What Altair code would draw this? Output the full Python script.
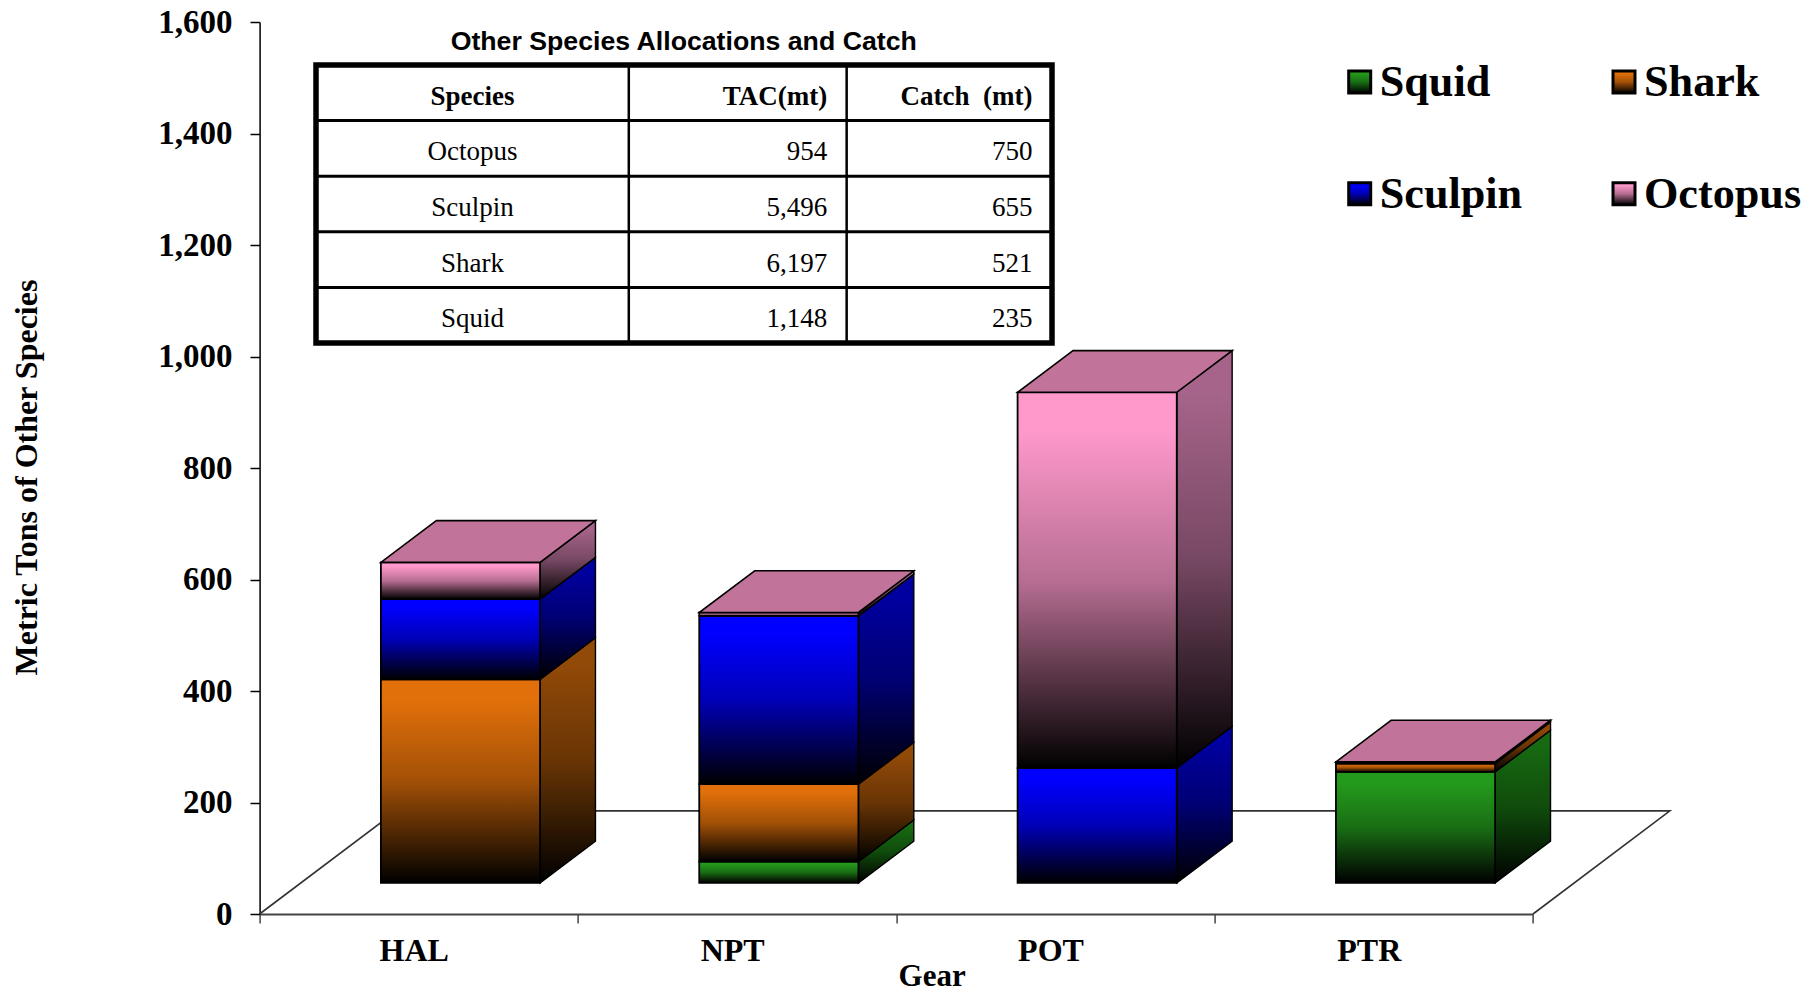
import altair as alt
import pandas as pd

# ---- chart data (metric tons) ----
gears = ["HAL", "NPT", "POT", "PTR"]
squid = [0, 38, 0, 199]
shark = [365, 139, 0, 15]
sculpin = [144, 302, 206, 0]
octopus = [66, 6, 674, 3]
y_ticks = [0, 200, 400, 600, 800, 1000, 1200, 1400, 1600]

# ---- table data ----
table_title = "Other Species Allocations and Catch"
table_header = ["Species", "TAC(mt)", "Catch\u00a0 (mt)"]
table_species = ["Octopus", "Sculpin", "Shark", "Squid"]
table_tac = ["954", "5,496", "6,197", "1,148"]
table_catch = ["750", "655", "521", "235"]

# ---- legend ----
legend_names = ["Squid", "Shark", "Sculpin", "Octopus"]

# ---- styles ----
SERIES = [
    ("Squid", squid, "#249a1c", "#176a12"),
    ("Shark", shark, "#e2700a", "#924a08"),
    ("Sculpin", sculpin, "#0000ff", "#0000a0"),
    ("Octopus", octopus, "#ff99cc", "#a6648a"),
]
TOP_COLOR = "#c27399"
SERIF = "Liberation Serif"
SANS = "Liberation Sans"

# ---- geometry of the pseudo-3D box ----
PLOT_W, PLOT_H = 1273.4, 892
BAR_LEFT, BAR_RIGHT = 0.381, 0.881   # inside a gear slot
DEPTH_X, DEPTH_Y = 0.174, 74.8       # bar depth in scale units
BASE = 55.8                          # bars stand in the middle of the floor
FLOOR_X, FLOOR_Y = 0.43, 185


def shade(color, k):
    r, g, b = (int(color[j:j + 2], 16) for j in (1, 3, 5))
    return "#{:02x}{:02x}{:02x}".format(int(r * k), int(g * k), int(b * k))


def grad(color):
    return alt.LinearGradient(
        gradient="linear", x1=0, x2=0, y1=0, y2=1,
        stops=[
            alt.GradientStop(offset=0, color=color),
            alt.GradientStop(offset=0.1, color=color),
            alt.GradientStop(offset=0.5, color=shade(color, 0.72)),
            alt.GradientStop(offset=1, color="#000000"),
        ],
    )


x_scale = alt.Scale(domain=[0, 4], range=[0, PLOT_W])
y_scale = alt.Scale(domain=[0, 1600], range=[PLOT_H, 0])


def X(f="x"):
    return alt.X(f"{f}:Q", scale=x_scale, axis=None)


def Y(f="y"):
    return alt.Y(f"{f}:Q", scale=y_scale, axis=None)


layers = []

# axes
axis_layer = (
    alt.Chart(pd.DataFrame({"gear": gears, "v": [0, 0, 0, 0]}))
    .mark_point(opacity=0)
    .encode(
        x=alt.X(
            "gear:N",
            scale=alt.Scale(type="band", domain=gears, paddingInner=0, paddingOuter=0),
            axis=alt.Axis(
                title="Gear", titleFont=SERIF, titleFontSize=31, titleFontWeight="bold",
                titleColor="black", titleX=672, titleY=71, titleBaseline="alphabetic",
                titleAlign="center",
                labelFont=SERIF, labelFontSize=32, labelFontWeight="bold", labelColor="black",
                labelAngle=0, labelOffset=-5, labelPadding=37, labelBaseline="alphabetic",
                tickBand="extent", tickSize=9, tickColor="#444444", tickWidth=1.5,
                domainColor="#444444", domainWidth=2, grid=False,
            ),
        ),
        y=alt.Y(
            "v:Q",
            scale=y_scale,
            axis=alt.Axis(
                values=y_ticks, format=",.0f", grid=False,
                title="Metric Tons of Other Species", titleFont=SERIF, titleFontSize=32,
                titleFontWeight="bold", titleColor="black", titleAngle=-90,
                titleX=-223, titleY=455, titleAlign="center", titleBaseline="alphabetic",
                labelFont=SERIF, labelFontSize=33, labelFontWeight="bold", labelColor="black",
                labelPadding=18, tickSize=9.6, tickColor="black", tickWidth=1.5,
                domainColor="black", domainWidth=1.5,
            ),
        ),
    )
)
layers.append(axis_layer)

# floor
floor_df = pd.DataFrame(
    {"x": [0, FLOOR_X, 4 + FLOOR_X, 4], "y": [0, FLOOR_Y, FLOOR_Y, 0], "o": [0, 1, 2, 3]}
)
layers.append(
    alt.Chart(floor_df)
    .mark_line(color="#333333", strokeWidth=1.6)
    .encode(x=X(), y=Y(), order="o:Q")
)

# bars: side faces, then front faces, then the lid
for i, gear in enumerate(gears):
    left, right = i + BAR_LEFT, i + BAR_RIGHT
    running = 0
    fronts = []
    for name, values, front_c, side_c in SERIES:
        v = values[i]
        if v <= 0:
            continue
        lo, hi = BASE + running, BASE + running + v
        running += v
        side_df = pd.DataFrame(
            {
                "x": [right, right + DEPTH_X],
                "y": [lo, lo + DEPTH_Y],
                "y2": [hi, hi + DEPTH_Y],
            }
        )
        layers.append(
            alt.Chart(side_df)
            .mark_area(color=grad(side_c), stroke="#000000", strokeWidth=1.4, orient="vertical")
            .encode(x=X(), y=Y(), y2="y2:Q")
        )
        fronts.append(
            alt.Chart(pd.DataFrame({"x": [left], "x2": [right], "y": [lo], "y2": [hi]}))
            .mark_rect(color=grad(front_c), stroke="#000000", strokeWidth=1.8)
            .encode(x=X(), x2="x2:Q", y=Y(), y2="y2:Q")
        )
    layers.extend(fronts)
    top = BASE + running
    lid_df = pd.DataFrame(
        {
            "y": [top, top + DEPTH_Y],
            "x": [left, left + DEPTH_X],
            "x2": [right, right + DEPTH_X],
        }
    )
    layers.append(
        alt.Chart(lid_df)
        .mark_area(color=TOP_COLOR, stroke="#000000", strokeWidth=1.6, orient="horizontal")
        .encode(y=Y(), x=X(), x2="x2:Q")
    )

# table (own scales: x runs over the table width, y over its rows)
tx = alt.Scale(domain=[0, 1], range=[316 - 259.6, 1052 - 259.6])
ty = alt.Scale(domain=[0, 5], range=[65 - 22, 343 - 22])


def TX(f="x"):
    return alt.X(f"{f}:Q", scale=tx, axis=None)


def TY(f="y"):
    return alt.Y(f"{f}:Q", scale=ty, axis=None)


layers.append(
    alt.Chart(pd.DataFrame({"x": [0], "x2": [1], "y": [0], "y2": [5]}))
    .mark_rect(fill="white", stroke="black", strokeWidth=5.5)
    .encode(x=TX(), x2="x2:Q", y=TY(), y2="y2:Q")
)
col_lines = [0.425, 0.721]
layers.append(
    alt.Chart(pd.DataFrame({"x": col_lines, "y": [0, 0], "y2": [5, 5]}))
    .mark_rule(color="black", strokeWidth=2.5)
    .encode(x=TX(), y=TY(), y2="y2:Q")
)
layers.append(
    alt.Chart(pd.DataFrame({"y": [1, 2, 3, 4], "x": [0] * 4, "x2": [1] * 4}))
    .mark_rule(color="black", strokeWidth=3)
    .encode(y=TY(), x=TX(), x2="x2:Q")
)
col_x = [0.2125, 0.6945, 0.9735]
col_align = ["center", "right", "right"]
columns = [table_species, table_tac, table_catch]
for c in range(3):
    rows = pd.DataFrame(
        {
            "label": [table_header[c]] + columns[c],
            "y": [0.572, 1.572, 2.572, 3.572, 4.572],
            "x": [col_x[c]] * 5,
            "w": ["bold", "normal", "normal", "normal", "normal"],
        }
    )
    for weight in ["bold", "normal"]:
        layers.append(
            alt.Chart(rows[rows.w == weight])
            .mark_text(font=SERIF, fontSize=27, fontWeight=weight, align=col_align[c],
                       baseline="middle", color="black")
            .encode(x=TX(), y=TY(), text="label:N")
        )
layers.append(
    alt.Chart(pd.DataFrame({"label": [table_title], "x": [0.4996], "y": [-0.42]}))
    .mark_text(font=SANS, fontSize=26.7, fontWeight="bold", align="center",
               baseline="middle", color="black")
    .encode(x=TX(), y=TY(), text="label:N")
)

# legend (own scales: column and row of the 2x2 block)
lx = alt.Scale(domain=[0, 1], range=[1359.7 - 259.6, 1624 - 259.6])
ly = alt.Scale(domain=[0, 1], range=[82 - 22, 193.7 - 22])
leg_df = pd.DataFrame(
    {"label": legend_names, "c": [0, 1, 0, 1], "r": [0, 0, 1, 1], "i": [0, 1, 2, 3]}
)
for k, (name, _, front_c, _) in enumerate(SERIES):
    layers.append(
        alt.Chart(leg_df[leg_df.i == k])
        .mark_square(color=grad(front_c), stroke="black", strokeWidth=3, size=484, opacity=1)
        .encode(
            x=alt.X("c:Q", scale=lx, axis=None),
            y=alt.Y("r:Q", scale=ly, axis=None),
        )
    )
layers.append(
    alt.Chart(leg_df)
    .mark_text(font=SERIF, fontSize=44.2, fontWeight="bold", align="left",
               baseline="alphabetic", color="black", dx=20, dy=14)
    .encode(
        x=alt.X("c:Q", scale=lx, axis=None),
        y=alt.Y("r:Q", scale=ly, axis=None),
        text="label:N",
    )
)

chart = (
    alt.layer(*layers)
    .resolve_scale(x="independent", y="independent")
    .properties(
        width=PLOT_W,
        height=PLOT_H,
        autosize=alt.AutoSizeParams(type="none"),
        padding={"left": 251.6, "top": 14, "right": 276, "bottom": 78},
        background="white",
    )
    .configure_view(stroke=None)
)

chart.save("out.html", embed_options={"renderer": "svg", "actions": False})
